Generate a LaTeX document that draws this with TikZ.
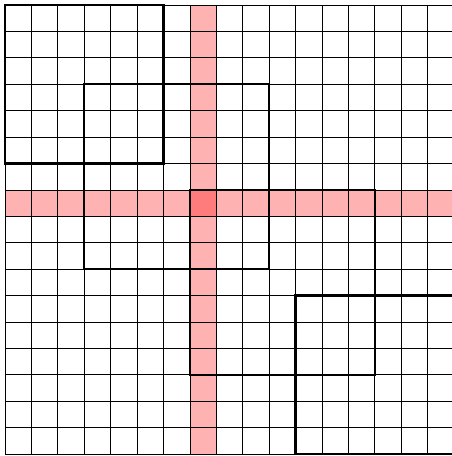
\documentclass[tikz,border=0pt]{standalone}
\begin{document}
\begin{tikzpicture}[x=1cm,y=-1cm,
  band/.style={fill=red,fill opacity=0.3},
  gridline/.style={line width=0.7pt,black},
  sq/.style={line width=2.6pt,black}]
\useasboundingbox (-0.189,-0.189) rectangle (16.887,17.076);
\fill[white] (-0.189,-0.189) rectangle (16.887,17.076);
% red bands
\fill[band] (7,0) rectangle (8,17);
\fill[band] (0,7) rectangle (17,8);
% grid
\draw[gridline] (0,0) grid (17,17);
% squares
\draw[sq] (0,0) rectangle (6,6);
\draw[sq] (3,3) rectangle (10,10);
\draw[sq] (7,7) rectangle (14,14);
\draw[sq] (11,11) rectangle (17,17);
\end{tikzpicture}
\end{document}
